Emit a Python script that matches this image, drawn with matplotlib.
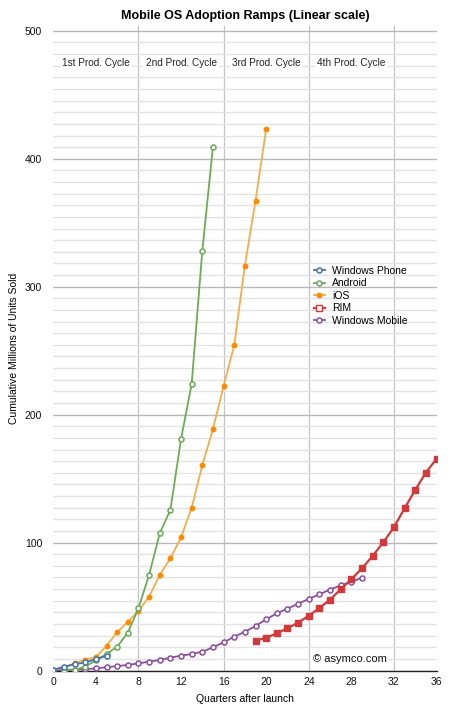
import matplotlib
matplotlib.use("Agg")
import matplotlib.pyplot as plt
from matplotlib.ticker import MultipleLocator

plt.rcParams['font.family'] = ['Liberation Sans', 'DejaVu Sans']

# cumulative millions of units
wp_q = [0, 1, 2, 3, 4, 5]
wp_units = [0.4, 3.0, 4.8, 6.4, 8.8, 11.4]

android_q = list(range(1, 16))
android_units = [0.0, 0.4, 3.0, 8.0, 12.9, 18.6, 29.6, 48.6, 74.7, 107.3,
                 125.5, 180.8, 224.0, 328.0, 409.5]

ios_q = list(range(0, 21))
ios_units = [0.3, 2.5, 5.6, 8.5, 10.5, 19.2, 30.0, 38.0, 46.5, 57.7, 74.7,
             87.7, 104.0, 127.3, 160.5, 188.8, 222.4, 254.3, 316.5, 367.3, 423.4]

rim_q = list(range(19, 37))
rim_units = [23.3, 25.6, 29.1, 33.0, 37.4, 42.8, 48.9, 55.4, 63.5, 71.3,
             79.9, 89.5, 100.2, 112.0, 126.8, 141.1, 154.7, 165.4]

wm_q = list(range(0, 30))
wm_units = [0.2, 0.4, 0.7, 1.0, 1.7, 2.5, 3.5, 4.3, 5.6, 6.9, 8.2, 10.0, 11.6,
            12.9, 14.7, 18.1, 22.0, 26.4, 30.3, 34.8, 40.0, 44.7, 48.3, 52.2,
            55.9, 59.6, 63.2, 66.6, 69.2, 72.6]

cycle_labels = ["1st Prod. Cycle", "2nd Prod. Cycle", "3rd Prod. Cycle", "4th Prod. Cycle"]
cycle_centers = [4, 12, 20, 28]

fig = plt.figure(figsize=(4.5, 7.09), dpi=100)
ax = fig.add_axes([0.1184, 0.0543, 0.8516, 0.9085])

lw = 1.3
ms = 3.6
h_wm, = ax.plot(wm_q, wm_units, color="#8b4f9f", lw=lw, marker="o", ms=ms,
                mfc="white", mew=1.1, zorder=3)
h_rim, = ax.plot(rim_q, rim_units, color="#d2393d", lw=lw + 0.3, marker="s", ms=4.2,
                 zorder=4)
h_ios, = ax.plot(ios_q, ios_units, color="#f5ad4a", lw=lw, marker="o", ms=3.2,
                 mfc="#ff8a00", mec="#ff8a00", zorder=5)
h_and, = ax.plot(android_q, android_units, color="#6cac55", lw=lw, marker="o", ms=ms,
                 mfc="white", mew=1.1, zorder=6)
h_wp, = ax.plot(wp_q, wp_units, color="#4473ad", lw=lw, marker="o", ms=ms,
                mfc="white", mew=1.1, zorder=7)

ax.set_xlim(0, 36)
ax.set_ylim(0, 503.5)
ax.xaxis.set_major_locator(MultipleLocator(4))
ax.yaxis.set_major_locator(MultipleLocator(100))
ax.yaxis.set_minor_locator(MultipleLocator(100 / 11))

for v in range(8, 36, 8):
    ax.axvline(v, color="#c4c4c4", lw=0.9, zorder=1)
ax.grid(which="minor", axis="y", color="#e3e3e3", lw=1.0, zorder=0)
ax.grid(which="major", axis="y", color="#b8b8b8", lw=1.0, zorder=0)

for s in ["top", "right", "left"]:
    ax.spines[s].set_visible(False)
ax.spines["bottom"].set_color("#222222")
ax.spines["bottom"].set_linewidth(1.0)
ax.tick_params(which="both", length=0, labelsize=7.5, colors="#111111")
ax.tick_params(axis="y", pad=8)
ax.tick_params(axis="x", pad=5)

for lab, c in zip(cycle_labels, cycle_centers):
    ax.text(c, 475, lab, ha="center", va="center", fontsize=7.2, color="#222222",
            bbox=dict(facecolor="white", edgecolor="none", pad=1.5), zorder=2)

ax.text(27.9, 9, "\u00a9 asymco.com", ha="center", va="center", fontsize=8,
        color="#111111", bbox=dict(facecolor="white", edgecolor="none", pad=1.5),
        zorder=8)

ax.set_title("Mobile OS Adoption Ramps (Linear scale)", fontsize=9, fontweight="bold",
             pad=5)
ax.set_xlabel("Quarters after launch", fontsize=7.5, labelpad=5)
ax.set_ylabel("Cumulative Millions of Units Sold", fontsize=7.5, labelpad=4)

leg = ax.legend([h_wp, h_and, h_ios, h_rim, h_wm],
                ["Windows Phone", "Android", "iOS", "RIM", "Windows Mobile"],
                loc="upper left", bbox_to_anchor=(0.67, 0.635), frameon=False,
                fontsize=7.5, handlelength=1.0, handletextpad=0.7, labelspacing=0.25,
                borderaxespad=0)
for h in leg.legend_handles:
    if h.get_color() != "#f5ad4a":
        h.set_markerfacecolor("white")

fig.savefig("out.png", dpi=100)
